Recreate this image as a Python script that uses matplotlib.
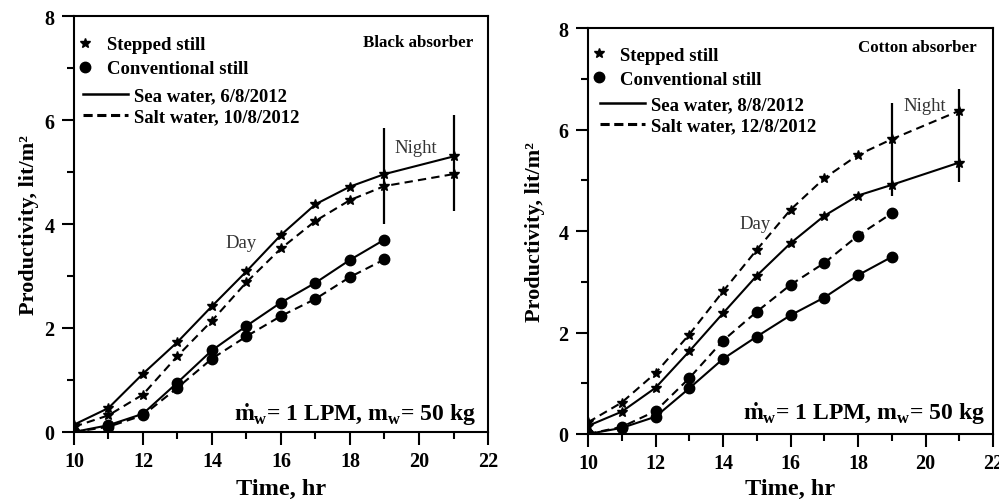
import matplotlib
matplotlib.use("Agg")
import matplotlib.pyplot as plt
from matplotlib.lines import Line2D
from matplotlib.ticker import MultipleLocator

plt.rcParams['font.family'] = ['Liberation Serif', 'DejaVu Serif']
plt.rcParams['mathtext.fontset'] = 'custom'
plt.rcParams['mathtext.rm'] = 'Liberation Serif:bold'
plt.rcParams['mathtext.it'] = 'Liberation Serif:bold'
plt.rcParams['mathtext.bf'] = 'Liberation Serif:bold'

# ---- data ----
hours = [10, 11, 12, 13, 14, 15, 16, 17, 18, 19, 21]
hours_conv = [10, 11, 12, 13, 14, 15, 16, 17, 18, 19]

# Black absorber (left)
black_stepped_sea = [0.14, 0.46, 1.12, 1.73, 2.42, 3.09, 3.79, 4.38, 4.72, 4.96, 5.30]
black_stepped_salt = [0.10, 0.32, 0.72, 1.46, 2.14, 2.88, 3.53, 4.06, 4.46, 4.73, 4.96]
black_conv_sea = [0.0, 0.13, 0.35, 0.95, 1.57, 2.04, 2.49, 2.87, 3.31, 3.70]
black_conv_salt = [0.0, 0.10, 0.32, 0.85, 1.41, 1.84, 2.23, 2.56, 2.98, 3.32]
black_vlines_x = [19, 21]
black_vlines_lo = [4.0, 4.26]
black_vlines_hi = [5.85, 6.1]

# Cotton absorber (right)
cotton_stepped_sea = [0.16, 0.44, 0.91, 1.63, 2.38, 3.12, 3.76, 4.30, 4.70, 4.91, 5.35]
cotton_stepped_salt = [0.23, 0.62, 1.20, 1.96, 2.81, 3.63, 4.42, 5.04, 5.50, 5.81, 6.37]
cotton_conv_sea = [0.0, 0.12, 0.34, 0.90, 1.48, 1.92, 2.34, 2.69, 3.13, 3.49]
cotton_conv_salt = [0.0, 0.14, 0.45, 1.10, 1.84, 2.41, 2.94, 3.37, 3.91, 4.35]
cotton_vlines_x = [19, 21]
cotton_vlines_lo = [4.70, 4.96]
cotton_vlines_hi = [6.52, 6.80]

panels = [
    dict(pos=[0.074, 0.1375, 0.4145, 0.8285], ss=black_stepped_sea, sl=black_stepped_salt,
         cs=black_conv_sea, cl=black_conv_salt, vx=black_vlines_x, vlo=black_vlines_lo,
         vhi=black_vlines_hi, title='Black absorber', title_xy=(21.57, 7.5),
         night=(19.9, 5.48), day=(14.85, 3.65), ann=(21.66, 0.35),
         labels=['Sea water, 6/8/2012', 'Salt water, 10/8/2012'],
         leg1=(0.006, 0.952), leg2=(0.022, 0.829), ylpad=3.5, xlpad=5),
    dict(pos=[0.5886, 0.1335, 0.4054, 0.8085], ss=cotton_stepped_sea, sl=cotton_stepped_salt,
         cs=cotton_conv_sea, cl=cotton_conv_salt, vx=cotton_vlines_x, vlo=cotton_vlines_lo,
         vhi=cotton_vlines_hi, title='Cotton absorber', title_xy=(21.51, 7.62),
         night=(19.98, 6.47), day=(14.95, 4.14), ann=(21.76, 0.43),
         labels=['Sea water, 8/8/2012', 'Salt water, 12/8/2012'],
         leg1=(0.005, 0.955), leg2=(0.03, 0.832), ylpad=10, xlpad=3),
]

fig = plt.figure(figsize=(9.99, 5.02), dpi=100)

for p in panels:
    ax = fig.add_axes(p['pos'])
    kw = dict(color='black', lw=1.5)
    ax.plot(hours, p['ss'], '-', marker='*', ms=7.5, **kw)
    ax.plot(hours, p['sl'], '--', marker='*', ms=7.5, dashes=(4, 2.5), **kw)
    ax.plot(hours_conv, p['cs'], '-', marker='o', ms=7.5, **kw)
    ax.plot(hours_conv, p['cl'], '--', marker='o', ms=7.5, dashes=(4, 2.5), **kw)
    ax.vlines(p['vx'], p['vlo'], p['vhi'], color='black', lw=1.6)

    ax.set_xlim(10, 22)
    ax.set_ylim(0, 8)
    ax.xaxis.set_major_locator(MultipleLocator(2))
    ax.xaxis.set_minor_locator(MultipleLocator(1))
    ax.yaxis.set_major_locator(MultipleLocator(2))
    ax.yaxis.set_minor_locator(MultipleLocator(1))
    ax.tick_params(which='major', direction='out', length=9, width=1.5, labelsize=14.5, pad=5)
    ax.tick_params(which='minor', direction='out', length=5, width=1.5)
    for lab in ax.get_xticklabels() + ax.get_yticklabels():
        lab.set_fontweight('bold')
    for s in ax.spines.values():
        s.set_linewidth(1.5)

    ax.set_xlabel('Time, hr', fontsize=17.5, fontweight='bold', labelpad=p['xlpad'])
    ax.set_ylabel('Productivity, lit/m\u00b2', fontsize=16, fontweight='bold',
                  labelpad=p['ylpad'])

    ax.text(p['title_xy'][0], p['title_xy'][1], p['title'], fontsize=12.2, fontweight='bold',
            ha='right', va='center')
    ax.text(p['night'][0], p['night'][1], 'Night', fontsize=13.5, ha='center', va='center',
            color='#333333')
    ax.text(p['day'][0], p['day'][1], 'Day', fontsize=13.5, ha='center', va='center',
            color='#333333')
    ax.text(p['ann'][0], p['ann'][1],
            r'$\dot{\mathrm{m}}_{\mathrm{w}}$= 1 LPM, m$_{\mathrm{w}}$= 50 kg',
            fontsize=17, fontweight='bold', ha='right', va='center')

    h1 = [Line2D([], [], color='black', marker='*', ls='none', ms=7.5),
          Line2D([], [], color='black', marker='o', ls='none', ms=7.5)]
    leg1 = ax.legend(h1, ['Stepped still', 'Conventional still'], loc='upper left',
                     bbox_to_anchor=p['leg1'], frameon=False, handlelength=0.93,
                     handletextpad=0.69, labelspacing=0.38, borderpad=0, borderaxespad=0,
                     prop=dict(size=13.5, weight='bold'))
    ax.add_artist(leg1)
    h2 = [Line2D([], [], color='black', ls='-', lw=1.8),
          Line2D([], [], color='black', ls='--', lw=2.2, dashes=(3, 1.5))]
    ax.legend(h2, p['labels'], loc='upper left', bbox_to_anchor=p['leg2'], frameon=False,
              handlelength=2.4, handletextpad=0.33, labelspacing=0.22, borderpad=0,
              borderaxespad=0, prop=dict(size=13.5, weight='bold'))

fig.savefig('out.png', dpi=100)
